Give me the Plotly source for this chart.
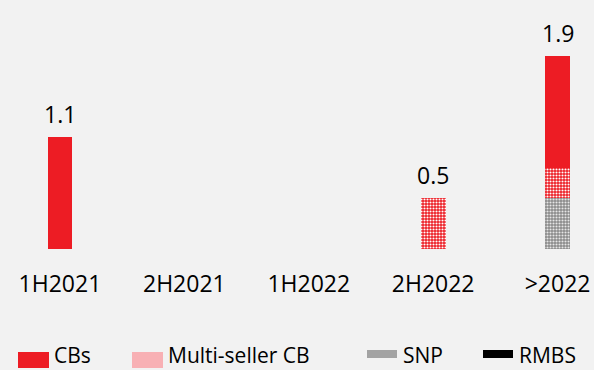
import plotly.graph_objects as go

# Issuance by period (EUR bn), stacked by instrument
periods = ["1H2021", "2H2021", "1H2022", "2H2022", ">2022"]
cbs = [1.1, 0, 0, 0, 1.1]
multi_seller_cb = [0, 0, 0, 0.5, 0.3]
snp = [0, 0, 0, 0, 0.5]
rmbs = [0, 0, 0, 0, 0]
series_names = ["CBs", "Multi-seller CB", "SNP", "RMBS"]

RED = "#ED1C24"
PINK = "#F8B0B4"
BG = "#F2F2F2"
FONT = "Open Sans"

W, H = 594, 370
PLOT_BOTTOM = 249  # pixel row of the bar baseline

fig = go.Figure()

# stacking order from bottom: RMBS, SNP, Multi-seller CB, CBs
fig.add_trace(go.Bar(x=periods, y=rmbs, name="RMBS", marker=dict(color="#000000", line=dict(width=0))))
fig.add_trace(go.Bar(
    x=periods, y=snp, name="SNP",
    marker=dict(color="#8c8c8c", line=dict(width=0),
                pattern=dict(shape=".", fgcolor="#e6e6e6", bgcolor="#8a8a8a",
                             size=3, solidity=0.4, fillmode="replace")),
))
fig.add_trace(go.Bar(
    x=periods, y=multi_seller_cb, name="Multi-seller CB",
    marker=dict(color=RED, line=dict(width=0),
                pattern=dict(shape=".", fgcolor="#ffffff", bgcolor=RED,
                             size=3, solidity=0.4, fillmode="replace")),
))
fig.add_trace(go.Bar(x=periods, y=cbs, name="CBs", marker=dict(color=RED, line=dict(width=0))))

# total labels above each non-empty stack
totals = [round(a + b + c + d, 2) for a, b, c, d in zip(cbs, multi_seller_cb, snp, rmbs)]
for p, t in zip(periods, totals):
    if t > 0:
        fig.add_annotation(x=p, y=t, xref="x", yref="y", text=f"{t:.1f}",
                           showarrow=False, yanchor="bottom", yshift=5,
                           font=dict(family=FONT, size=23, color="#000000"))

# custom legend row along the bottom
def py_to_paper(py):
    return (PLOT_BOTTOM - py) / PLOT_BOTTOM

legend_items = [
    # (swatch x0, x1, y0, y1, fill, text x)
    (18, 49, 352, 368, RED, 52),
    (132, 163, 352, 368, PINK, 166),
    (367, 397, 350, 358, "#a3a3a3", 401),
    (483, 513, 350, 358, "#000000", 517),
]
for (x0, x1, y0, y1, col, tx), name in zip(legend_items, series_names):
    fig.add_shape(type="rect", xref="paper", yref="paper",
                  x0=x0 / W, x1=x1 / W, y0=py_to_paper(y1), y1=py_to_paper(y0),
                  fillcolor=col, line=dict(width=0), layer="above")
    fig.add_annotation(x=tx / W, y=py_to_paper(355), xref="paper", yref="paper",
                       text=name, showarrow=False, xanchor="left", yanchor="middle",
                       font=dict(family=FONT, size=21, color="#000000"))

fig.update_layout(
    width=W, height=H,
    margin=dict(l=0, r=0, t=0, b=H - PLOT_BOTTOM, pad=0),
    paper_bgcolor=BG, plot_bgcolor=BG,
    barmode="stack", bargap=0.8,
    showlegend=False,
    font=dict(family=FONT, size=23, color="#000000"),
)
fig.update_xaxes(range=[-0.482, 4.293], showgrid=False, showline=False, zeroline=False,
                 ticks="", ticklabelstandoff=19,
                 tickfont=dict(family=FONT, size=23, color="#000000"))
fig.update_yaxes(range=[0, 2.446], visible=False, showgrid=False, zeroline=False)

fig.write_html("out.html")
